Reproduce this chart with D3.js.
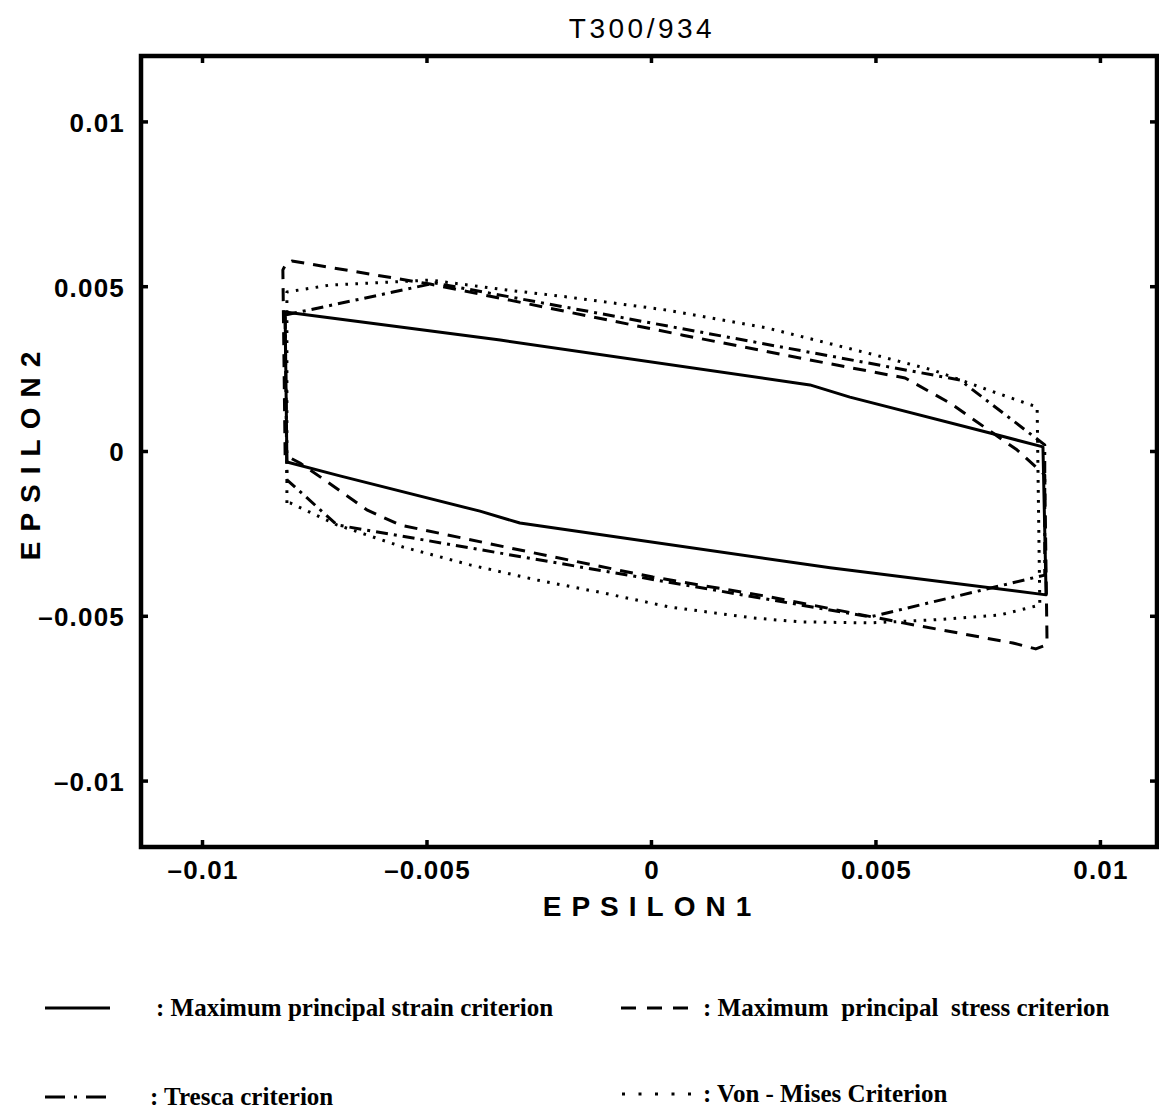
<!DOCTYPE html>
<html>
<head>
<meta charset="utf-8">
<script src="https://cdn.jsdelivr.net/npm/d3@7"></script>
<style>
  html, body { margin: 0; padding: 0; background: #fff; }
  svg { display: block; }
</style>
</head>
<body>
<svg id="chart" width="1159" height="1112"></svg>
<script>
// Failure envelopes of T300/934 in principal strain space (EPSILON1, EPSILON2)
const titleText = "T300/934";
const xLabel = "EPSILON1";
const yLabel = "EPSILON2";

const xTicks = [-0.01, -0.005, 0, 0.005, 0.01];
const yTicks = [-0.01, -0.005, 0, 0.005, 0.01];
const tickLabels = ["\u20130.01", "\u20130.005", "0", "0.005", "0.01"];

// Maximum principal strain criterion
const strainEnvelope = [
  [-0.00816, 0.00423], [-0.00337, 0.00338], [0.00353, 0.00202], [0.00442, 0.00165],
  [0.00754, 0.00056], [0.00872, 0.00014], [0.00879, -0.00435], [0.00398, -0.00353],
  [-0.00293, -0.00217], [-0.00382, -0.00181], [-0.00694, -0.00074], [-0.00812, -0.00032]
];

// Maximum principal stress criterion
const stressEnvelope = [
  [-0.00816, -0.00011], [-0.00821, 0.00551], [-0.00814, 0.00569], [-0.00801, 0.00578],
  [-0.00493, 0.00508], [0.0007, 0.00353], [0.00375, 0.00272], [0.00565, 0.00223],
  [0.00665, 0.00147], [0.00814, 0.00005], [0.00876, -0.00071], [0.00881, -0.00572],
  [0.00874, -0.0059], [0.00856, -0.00599], [0.00805, -0.00581], [0.0056, -0.0052],
  [0.00264, -0.00441], [0.00003, -0.00381], [-0.00293, -0.00299], [-0.0056, -0.00223],
  [-0.00634, -0.00177], [-0.00738, -0.00077], [-0.00783, -0.00035]
];

// Tresca criterion
const trescaEnvelope = [
  [-0.00816, 0.00414], [-0.00482, 0.00511], [0.00687, 0.00217], [0.00876, 0.0002],
  [0.00876, -0.00375], [0.00487, -0.00502], [-0.007, -0.00223], [-0.00812, -0.00086]
];

// Von Mises criterion
const misesEnvelope = [
  [-0.00812, -0.00156], [-0.00812, 0.00484], [-0.00716, 0.00505], [-0.00493, 0.0052],
  [-0.00322, 0.0049], [-0.00188, 0.00469], [0.00035, 0.00429], [0.00257, 0.00375],
  [0.0048, 0.00299], [0.00627, 0.00247], [0.0077, 0.00177], [0.00859, 0.00135],
  [0.00865, -0.00466], [0.00776, -0.00496], [0.00627, -0.00511], [0.00487, -0.0052],
  [0.00331, -0.00517], [0.00226, -0.00505], [0.00041, -0.00472], [-0.00108, -0.00429],
  [-0.00255, -0.0039], [-0.00404, -0.00344], [-0.00553, -0.0029], [-0.007, -0.00223],
  [-0.00805, -0.00156]
];

const legendLabels = [
  ": Maximum principal strain criterion",
  ": Maximum\u00a0 principal\u00a0 stress criterion",
  ": Tresca criterion",
  ": Von - Mises Criterion"
];

const svg = d3.select("#chart");
const box = { left: 141, right: 1157, top: 56, bottom: 847 };

const x = d3.scaleLinear().domain([-0.01137, 0.01126]).range([box.left, box.right]);
const y = d3.scaleLinear().domain([-0.012, 0.012]).range([box.bottom, box.top]);

const sans = "'Liberation Sans', Arial, Helvetica, sans-serif";
const serif = "'Liberation Serif', 'Times New Roman', serif";

// line styles
const styles = {
  solid: null,
  dashed: "13,9",
  dashdot: "12,6,3,6",
  dotted: "2.6,7.4"
};

const line = d3.line().x(d => x(d[0])).y(d => y(d[1])).curve(d3.curveLinearClosed);

const curves = [
  { data: strainEnvelope, dash: styles.solid },
  { data: stressEnvelope, dash: styles.dashed },
  { data: trescaEnvelope, dash: styles.dashdot },
  { data: misesEnvelope, dash: styles.dotted }
];

const plot = svg.append("g");
plot.selectAll("path.env")
  .data(curves)
  .join("path")
  .attr("class", "env")
  .attr("d", d => line(d.data))
  .attr("fill", "none")
  .attr("stroke", "#000")
  .attr("stroke-width", 3)
  .attr("stroke-linejoin", "round")
  .attr("stroke-dasharray", d => d.dash);

// frame
svg.append("rect")
  .attr("x", box.left).attr("y", box.top)
  .attr("width", box.right - box.left).attr("height", box.bottom - box.top)
  .attr("fill", "none").attr("stroke", "#000").attr("stroke-width", 4.5);

// tick labels via d3 axes, tick marks drawn inward on all four sides
const tickLen = 7;
const axisBottom = d3.axisBottom(x).tickValues(xTicks).tickSize(0).tickPadding(14)
  .tickFormat((d, i) => tickLabels[i]);
const axisLeft = d3.axisLeft(y).tickValues(yTicks).tickSize(0).tickPadding(16)
  .tickFormat((d, i) => tickLabels[i]);

const gx = svg.append("g").attr("transform", `translate(0,${box.bottom})`).call(axisBottom);
const gy = svg.append("g").attr("transform", `translate(${box.left},0)`).call(axisLeft);
[gx, gy].forEach(g => {
  g.select(".domain").remove();
  g.selectAll("text")
    .attr("font-family", sans).attr("font-size", 26).attr("font-weight", "bold")
    .attr("letter-spacing", 1.2)
    .attr("fill", "#000");
});
gx.selectAll("text").attr("dy", "0.71em");
gy.selectAll("text").attr("dy", "0.36em");

const tickG = svg.append("g").attr("stroke", "#000").attr("stroke-width", 3.5);
xTicks.forEach(v => {
  tickG.append("line").attr("x1", x(v)).attr("x2", x(v)).attr("y1", box.bottom).attr("y2", box.bottom - tickLen);
  tickG.append("line").attr("x1", x(v)).attr("x2", x(v)).attr("y1", box.top).attr("y2", box.top + tickLen);
});
yTicks.forEach(v => {
  tickG.append("line").attr("y1", y(v)).attr("y2", y(v)).attr("x1", box.left).attr("x2", box.left + tickLen);
  tickG.append("line").attr("y1", y(v)).attr("y2", y(v)).attr("x1", box.right).attr("x2", box.right - tickLen);
});

// title and axis labels
svg.append("text")
  .attr("x", 642).attr("y", 38)
  .attr("text-anchor", "middle")
  .attr("font-family", sans).attr("font-size", 28)
  .attr("letter-spacing", 3.5)
  .text(titleText);

svg.append("text")
  .attr("x", 652).attr("y", 916)
  .attr("text-anchor", "middle")
  .attr("font-family", sans).attr("font-size", 28).attr("font-weight", "bold")
  .attr("letter-spacing", 10)
  .text(xLabel);

svg.append("text")
  .attr("transform", `translate(40,${451}) rotate(-90)`)
  .attr("text-anchor", "middle")
  .attr("font-family", sans).attr("font-size", 28).attr("font-weight", "bold")
  .attr("letter-spacing", 10)
  .text(yLabel);

// legend
const legendItems = [
  { x1: 45, x2: 110, ly: 1008, tx: 156, dash: styles.solid, label: legendLabels[0] },
  { x1: 621, x2: 690, ly: 1008, tx: 703, dash: "15,11", label: legendLabels[1] },
  { x1: 45, x2: 110, ly: 1097, tx: 150, dash: "20,9,3,9", label: legendLabels[2] },
  { x1: 622, x2: 692, ly: 1094, tx: 703, dash: "3,13.5", label: legendLabels[3] }
];

const leg = svg.append("g");
leg.selectAll("line")
  .data(legendItems)
  .join("line")
  .attr("x1", d => d.x1).attr("x2", d => d.x2)
  .attr("y1", d => d.ly).attr("y2", d => d.ly)
  .attr("stroke", "#000").attr("stroke-width", 3)
  .attr("stroke-dasharray", d => d.dash);

leg.selectAll("text")
  .data(legendItems)
  .join("text")
  .attr("x", d => d.tx).attr("y", d => d.ly + 8)
  .attr("font-family", serif).attr("font-size", 25).attr("font-weight", "bold")
  .text(d => d.label);
</script>
</body>
</html>
